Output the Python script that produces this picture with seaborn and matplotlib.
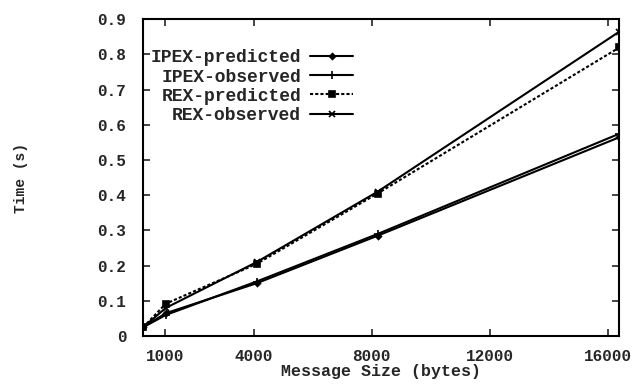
import matplotlib
matplotlib.use("Agg")
import matplotlib.pyplot as plt
import seaborn as sns
import pandas as pd

sizes = [256, 1024, 4096, 8192, 16384]
ipex_predicted = [0.025, 0.065, 0.150, 0.285, 0.565]
ipex_observed = [0.025, 0.060, 0.155, 0.290, 0.575]
rex_predicted = [0.025, 0.092, 0.205, 0.405, 0.820]
rex_observed = [0.025, 0.080, 0.210, 0.410, 0.865]
series_names = ["IPEX-predicted", "IPEX-observed", "REX-predicted", "REX-observed"]
x_ticks = [1000, 4000, 8000, 12000, 16000]
y_ticks = [0, 0.1, 0.2, 0.3, 0.4, 0.5, 0.6, 0.7, 0.8, 0.9]
y_tick_labels = ["0", "0.1", "0.2", "0.3", "0.4", "0.5", "0.6", "0.7", "0.8", "0.9"]

sns.set_style("ticks")
plt.rcParams['font.family'] = ['Liberation Mono', 'DejaVu Sans Mono']
plt.rcParams['font.weight'] = 'bold'
plt.rcParams['axes.labelweight'] = 'bold'

fig = plt.figure(figsize=(6.36, 3.85), dpi=100)
ax = fig.add_axes([0.225, 0.127, 0.749, 0.823])

values = [ipex_predicted, ipex_observed, rex_predicted, rex_observed]
styles = [
    dict(marker="D", markersize=3, linestyle="-"),
    dict(marker="+", markersize=6, linestyle="-"),
    dict(marker="s", markersize=4, linestyle=(0, (1.5, 1.0))),
    dict(marker="x", markersize=5, linestyle="-"),
]
for name, vals, st in zip(series_names, values, styles):
    df = pd.DataFrame({"size": sizes, "time": vals})
    sns.lineplot(data=df, x="size", y="time", ax=ax, color="black",
                 linewidth=1.5, label=name, markeredgewidth=1.2,
                 markeredgecolor="black", **st)

ax.set_xlim(256, 16384)
ax.set_ylim(0, 0.9)
ax.set_xticks(x_ticks)
ax.set_xticklabels([str(t) for t in x_ticks])
ax.set_yticks(y_ticks)
ax.set_yticklabels(y_tick_labels)
ax.tick_params(direction="in", length=5, width=1.2, top=True, right=True,
               labelsize=11.5)
ax.tick_params(axis="y", pad=12)
ax.tick_params(axis="x", pad=9)
for s in ax.spines.values():
    s.set_linewidth(1.5)
    s.set_color("black")

ax.set_xlabel("Message Size (bytes)", fontsize=12, labelpad=0)
ax.set_ylabel("Time (s)", fontsize=10.5, labelpad=50)

leg = ax.legend(loc="upper right", bbox_to_anchor=(0.57, 0.895),
                bbox_transform=fig.transFigure, frameon=False,
                markerfirst=False, handlelength=2.4, handletextpad=0.5,
                labelspacing=0.12, borderpad=0, fontsize=13)

fig.savefig("out.png", dpi=100)
